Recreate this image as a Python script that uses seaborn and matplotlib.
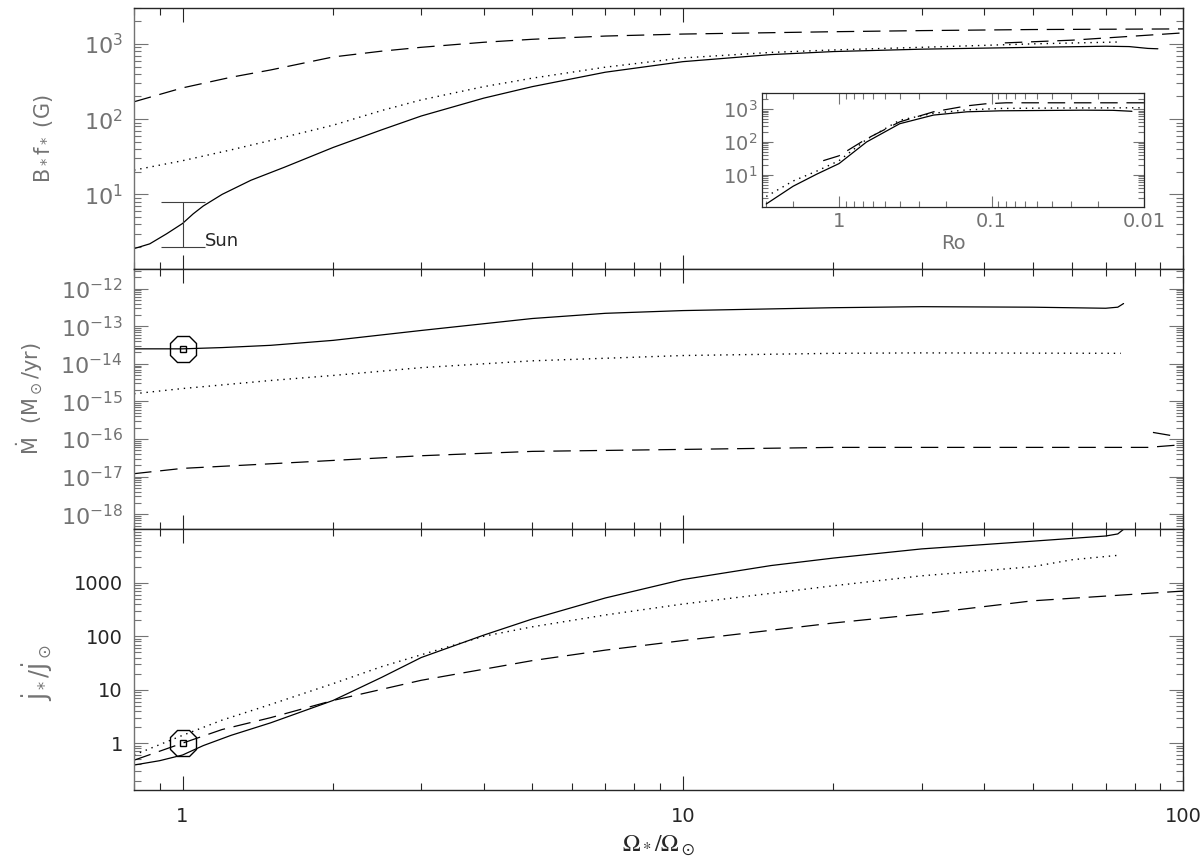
import numpy as np
import pandas as pd
import seaborn as sns
import matplotlib.pyplot as plt
from matplotlib.ticker import LogLocator, FixedLocator, FixedFormatter, NullFormatter

sns.set_style('ticks')
plt.rcParams['font.family'] = ['DejaVu Sans']
plt.rcParams['mathtext.fontset'] = 'dejavusans'

## data
# top panel: B f (G) vs Omega/Omega_sun
b_solid_x = [0.8, 0.86, 0.93, 1.0, 1.05, 1.1, 1.2, 1.37, 1.6, 2, 2.5, 3, 4, 5, 7, 10, 15, 20, 30, 50, 70, 78, 85, 89]
b_solid_y = [1.9, 2.2, 3.0, 4.1, 5.5, 7.0, 10.0, 15.4, 23, 42, 72, 110, 190, 270, 420, 580, 720, 790, 850, 900, 930, 920, 870, 860]
b_dot_x = [0.8, 1, 1.25, 1.5, 2, 2.5, 3, 4, 5, 7, 10, 15, 20, 30, 50, 75]
b_dot_y = [21, 28, 39, 52, 83, 130, 180, 270, 350, 490, 650, 770, 830, 900, 1000, 1060]
b_dash_x = [0.8, 1, 1.25, 1.5, 2, 2.5, 3, 4, 5, 7, 10, 20, 30, 50, 100]
b_dash_y = [170, 260, 360, 450, 670, 800, 900, 1050, 1150, 1270, 1350, 1450, 1500, 1550, 1580]
b_dash2_x = [44, 60, 80, 100]
b_dash2_y = [1030, 1120, 1270, 1400]

# inset: B f vs Rossby number
ro_solid_x = [3.0, 2.0, 1.4, 1.0, 0.66, 0.40, 0.24, 0.145, 0.087, 0.025, 0.016, 0.012]
ro_solid_y = [1.3, 4.5, 10.5, 22, 100, 360, 660, 830, 890, 930, 920, 860]
ro_dot_x = [3.0, 2.0, 1.4, 1.0, 0.66, 0.40, 0.24, 0.145, 0.087, 0.04, 0.01]
ro_dot_y = [2.2, 6.5, 13, 27, 120, 460, 750, 950, 1050, 1080, 1100]
ro_dash_x = [1.27, 1.0, 0.66, 0.40, 0.24, 0.145, 0.11, 0.08, 0.01]
ro_dash_y = [27, 38, 125, 410, 830, 1260, 1450, 1560, 1560]

# middle panel: mass loss rate (Msun/yr)
m_solid_x = [0.8, 1, 1.2, 1.5, 2, 3, 5, 7, 10, 20, 30, 50, 70, 74, 76]
m_solid_y = [2.5e-14, 2.5e-14, 2.7e-14, 3.1e-14, 4.2e-14, 7.7e-14, 1.6e-13, 2.2e-13, 2.6e-13,
             3.1e-13, 3.3e-13, 3.2e-13, 3.0e-13, 3.2e-13, 4.0e-13]
m_dot_x = [0.8, 1, 1.5, 2, 3, 5, 10, 20, 30, 75]
m_dot_y = [1.6e-15, 2.2e-15, 3.6e-15, 4.9e-15, 7.9e-15, 1.2e-14, 1.66e-14, 1.9e-14, 1.95e-14, 1.9e-14]
m_dash_x = [0.8, 1, 1.5, 2, 3, 5, 10, 20, 50, 85, 100]
m_dash_y = [1.2e-17, 1.66e-17, 2.2e-17, 2.7e-17, 3.6e-17, 4.7e-17, 5.3e-17, 6e-17, 6e-17, 6e-17, 7.1e-17]
m_dash2_x = [87, 96]
m_dash2_y = [1.5e-16, 1.2e-16]

# bottom panel: torque J/J_sun
j_solid_x = [0.8, 0.9, 1, 1.1, 1.25, 1.5, 2, 2.5, 3, 4, 5, 7, 10, 15, 20, 30, 50, 70, 74, 76]
j_solid_y = [0.39, 0.47, 0.6, 0.9, 1.4, 2.4, 6.3, 17, 40, 105, 210, 520, 1150, 2100, 2900, 4300, 6000, 7500, 8200, 10000]
j_dot_x = [0.8, 1, 1.2, 1.5, 2, 2.5, 3, 4, 5, 7, 10, 20, 30, 50, 60, 75]
j_dot_y = [0.6, 1.4, 2.7, 5.3, 13, 27, 45, 100, 150, 250, 400, 880, 1350, 2000, 2700, 3300]
j_dash_x = [0.8, 1, 1.2, 1.5, 2, 3, 5, 7, 10, 20, 30, 50, 100]
j_dash_y = [0.48, 1.0, 1.8, 3.0, 6.3, 15, 35, 55, 83, 177, 260, 460, 700]

sun_b = [2.0, 7.8]
sun_mdot = 2.5e-14
sun_j = 1.0

solid = dict(color='k', lw=0.9, ls='-')
dotted = dict(color='k', lw=1.0, ls=(0, (1, 3.5)))
dashed = dict(color='k', lw=0.9, ls=(0, (14, 7)))
grey = '0.45'

fig, axes = plt.subplots(3, 1, figsize=(12, 8.65), dpi=100, sharex=True,
                         gridspec_kw=dict(hspace=0))
fig.subplots_adjust(left=0.1117, right=0.986, bottom=0.0867, top=0.9908)
ax1, ax2, ax3 = axes


def line(ax, x, y, style):
    sns.lineplot(x=x, y=y, ax=ax, estimator=None, sort=False, **style)


line(ax1, b_solid_x, b_solid_y, solid)
line(ax1, b_dot_x, b_dot_y, dotted)
line(ax1, b_dash_x, b_dash_y, dashed)
line(ax1, b_dash2_x, b_dash2_y, dashed)
ax1.errorbar([1.0], [np.mean(sun_b)], yerr=[[np.mean(sun_b) - sun_b[0]], [sun_b[1] - np.mean(sun_b)]],
             fmt='none', ecolor='0.25', elinewidth=0.8, capsize=16, capthick=0.8)
ax1.text(1.11, 2.4, 'Sun', fontsize=13, va='center', ha='left')

line(ax2, m_solid_x, m_solid_y, solid)
line(ax2, m_dot_x, m_dot_y, dotted)
line(ax2, m_dash_x, m_dash_y, dashed)
line(ax2, m_dash2_x, m_dash2_y, dashed)
ax2.plot([1.0], [sun_mdot], marker='8', ms=21, mfc='none', mec='k', mew=1.0)
ax2.plot([1.0], [sun_mdot], marker='s', ms=4, mfc='none', mec='k', mew=1.0)

line(ax3, j_solid_x, j_solid_y, solid)
line(ax3, j_dot_x, j_dot_y, dotted)
line(ax3, j_dash_x, j_dash_y, dashed)
ax3.plot([1.0], [sun_j], marker='8', ms=21, mfc='none', mec='k', mew=1.0)
ax3.plot([1.0], [sun_j], marker='s', ms=4, mfc='none', mec='k', mew=1.0)

for ax in axes:
    ax.set_xscale('log')
    ax.set_yscale('log')
    ax.tick_params(which='both', direction='in', top=True, right=True)
    ax.tick_params(which='major', length=10, width=0.8)
    ax.tick_params(which='minor', length=5, width=0.8)
    ax.tick_params(axis='y', which='both', color=grey)
    ax.yaxis.set_minor_locator(LogLocator(base=10, subs=np.arange(2, 10), numticks=30))
    ax.yaxis.set_major_locator(LogLocator(base=10, numticks=30))
    ax.yaxis.set_minor_formatter(NullFormatter())
    for s in ax.spines.values():
        s.set_linewidth(1.0)
    ax.spines['left'].set_color(grey)
    ax.set_ylabel('')
    ax.set_xlabel('')

ax3.set_xlim(0.8, 100)
ax3.xaxis.set_major_locator(FixedLocator([1, 10, 100]))
ax3.xaxis.set_major_formatter(FixedFormatter(['1', '10', '100']))
ax3.xaxis.set_minor_locator(LogLocator(base=10, subs=np.arange(2, 10), numticks=30))
ax3.xaxis.set_minor_formatter(NullFormatter())
ax3.tick_params(axis='x', labelsize=14, pad=12)

ax1.set_ylim(1.03, 3000)
ax2.set_ylim(10 ** -18.4, 10 ** -11.47)
ax3.set_ylim(0.133, 10000)

for ax in (ax1, ax2):
    ax.tick_params(axis='y', labelsize=16, labelcolor=grey, pad=8)
ax3.yaxis.set_major_locator(FixedLocator([1, 10, 100, 1000]))
ax3.yaxis.set_major_formatter(FixedFormatter(['1', '10', '100', '1000']))
ax3.tick_params(axis='y', labelsize=14, pad=8)

ax1.set_ylabel(r'B$_*$f$_*$ (G)', fontsize=15, color=grey)
ax2.set_ylabel(r'$\dot{\rm M}$  (M$_\odot$/yr)', fontsize=15, color=grey)
ax3.set_ylabel(r'$\dot{\rm J}_*/\dot{\rm J}_\odot$', fontsize=17, color=grey)
ax1.yaxis.set_label_coords(-0.075, 0.5)
ax2.yaxis.set_label_coords(-0.085, 0.5)
ax3.yaxis.set_label_coords(-0.075, 0.45)
ax3.set_xlabel(r'$\Omega_*/\Omega_\odot$', fontsize=17, math_fontfamily='stix', labelpad=6)

# inset: against Rossby number
axin = fig.add_axes([762 / 1200, 1 - 207 / 865, (1144 - 762) / 1200, (207 - 93) / 865])
line(axin, ro_solid_x, ro_solid_y, solid)
line(axin, ro_dot_x, ro_dot_y, dotted)
line(axin, ro_dash_x, ro_dash_y, dashed)
axin.set_xscale('log')
axin.set_yscale('log')
axin.set_xlim(3.2, 0.01)
axin.set_ylim(1.05, 3100)
axin.xaxis.set_major_locator(FixedLocator([1, 0.1, 0.01]))
axin.xaxis.set_major_formatter(FixedFormatter(['1', '0.1', '0.01']))
axin.xaxis.set_minor_locator(LogLocator(base=10, subs=np.arange(2, 10), numticks=30))
axin.xaxis.set_minor_formatter(NullFormatter())
axin.yaxis.set_major_locator(FixedLocator([10, 100, 1000]))
axin.yaxis.set_major_formatter(FixedFormatter([r'10$^1$', r'10$^2$', r'10$^3$']))
axin.yaxis.set_minor_locator(LogLocator(base=10, subs=np.arange(2, 10), numticks=30))
axin.yaxis.set_minor_formatter(NullFormatter())
axin.tick_params(which='both', direction='in', top=True, right=True, color=grey)
axin.tick_params(which='major', length=8, width=0.8)
axin.tick_params(which='minor', length=4, width=0.8)
axin.tick_params(labelsize=14, labelcolor=grey)
axin.set_xlabel('Ro', fontsize=14, color=grey, labelpad=2)
axin.set_ylabel('')
for s in axin.spines.values():
    s.set_linewidth(0.9)

fig.savefig('out.png', dpi=100)
